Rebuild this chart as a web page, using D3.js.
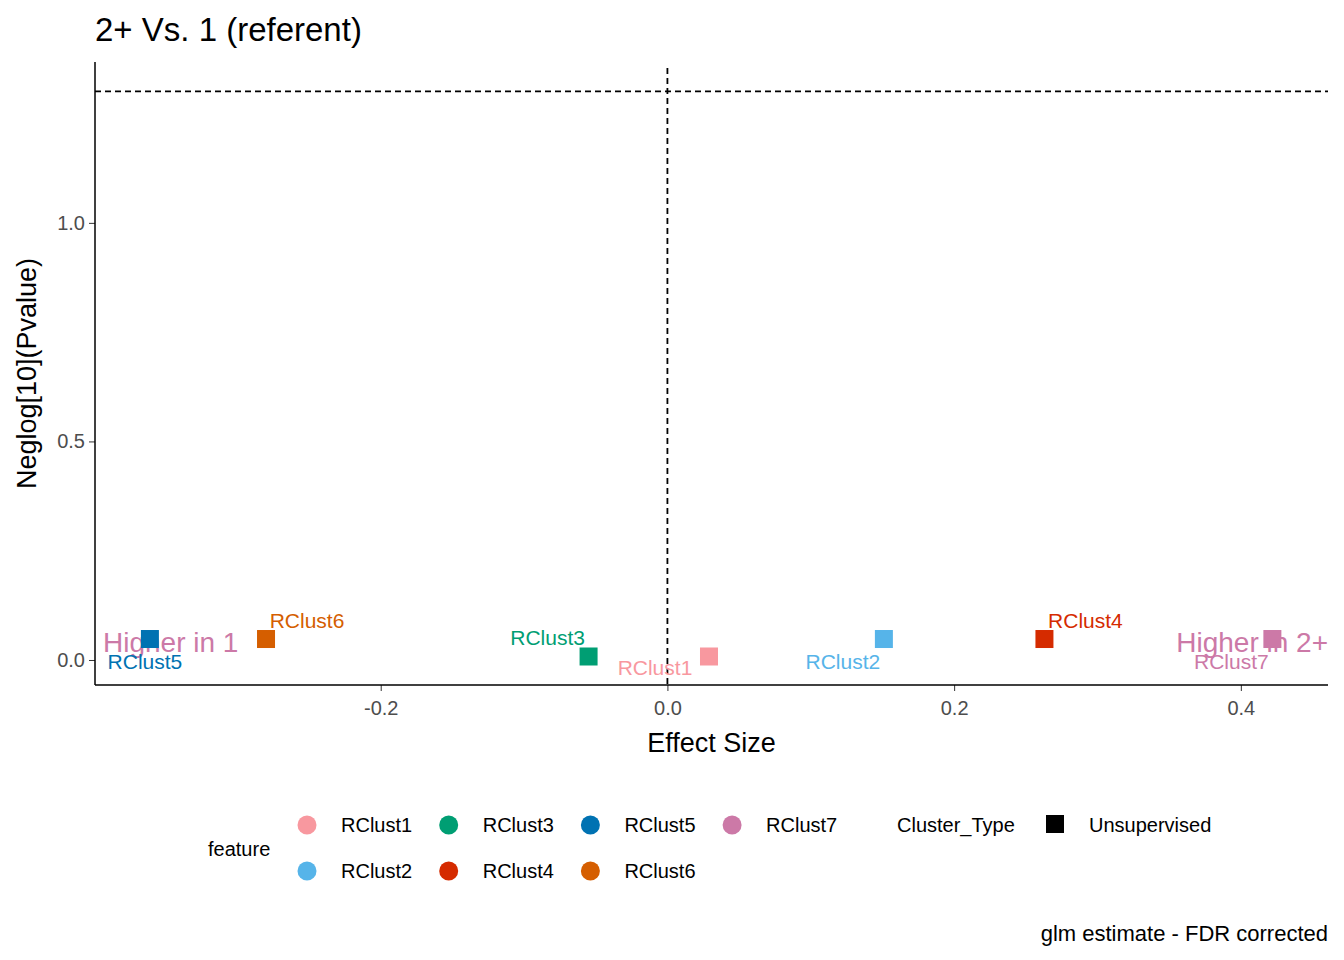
<!DOCTYPE html><html><head><meta charset="utf-8"><script src="https://cdn.jsdelivr.net/npm/d3@7"></script>
<style>body{margin:0;background:#fff}text{font-family:Arial,"Liberation Sans",sans-serif}</style></head><body>
<svg id="c" width="1344" height="960"></svg>
<script>
const features=["RClust1","RClust2","RClust3","RClust4","RClust5","RClust6","RClust7"];
const effect=[0.029,0.151,-0.055,0.263,-0.361,-0.280,0.422];
const neglogp=[0.008,0.048,0.008,0.048,0.048,0.048,0.048];
const colors=["#F8989F","#56B4E9","#009E73","#D52B00","#0072B2","#D55E00","#CC79A7"];
const labelOffsets=[[-54,19],[-41,30],[-41,-11],[41,-11],[-5,30],[41,-11],[-41,30]];
const xTicks=[-0.2,0,0.2,0.4];
const yTicks=[0,0.5,1.0];
const svg=d3.select("#c");
const L=95,R=1328,T=62,B=685;
const x=d3.scaleLinear().domain([-0.3993,0.4608]).range([L,R]);
const y=d3.scaleLinear().domain([-0.0572,1.368]).range([B,T]);
svg.append("text").attr("x",95).attr("y",41).attr("font-size",33).text("2+ Vs. 1 (referent)");
const g=svg.append("g");
g.append("line").attr("x1",x(0)).attr("x2",x(0)).attr("y1",T+6).attr("y2",B).attr("stroke","#000").attr("stroke-width",1.8).attr("stroke-dasharray","6,4");
g.append("line").attr("x1",L).attr("x2",R).attr("y1",y(1.301)).attr("y2",y(1.301)).attr("stroke","#000").attr("stroke-width",1.8).attr("stroke-dasharray","6,4");
const xa=svg.append("g").attr("transform",`translate(0,${B})`).call(d3.axisBottom(x).tickValues(xTicks).tickFormat(d=>d3.format(".1f")(d).replace("−","-")).tickSize(6).tickSizeOuter(0));
const ya=svg.append("g").attr("transform",`translate(${L},0)`).call(d3.axisLeft(y).tickValues(yTicks).tickFormat(d3.format(".1f")).tickSize(6).tickSizeOuter(0));
[xa,ya].forEach(a=>{a.select(".domain").remove();a.selectAll("text").attr("font-size",20).attr("fill","#4d4d4d").style("font-family","Arial");a.selectAll("line").attr("stroke","#333");});
ya.selectAll("text").attr("x",-10);
svg.append("line").attr("x1",L).attr("x2",R).attr("y1",B).attr("y2",B).attr("stroke","#000").attr("stroke-width",1.5);
svg.append("line").attr("x1",L).attr("x2",L).attr("y1",T).attr("y2",B).attr("stroke","#000").attr("stroke-width",1.5);
xa.selectAll("text").attr("dy","1.05em");
svg.append("text").attr("x",(L+R)/2).attr("y",752).attr("text-anchor","middle").attr("font-size",27).text("Effect Size");
svg.append("text").attr("transform",`translate(36,${(T+B)/2}) rotate(-90)`).attr("text-anchor","middle").attr("font-size",27).text("Neglog[10](Pvalue)");
svg.append("text").attr("x",103).attr("y",652).attr("font-size",28).attr("fill","#CC79A7").text("Higher in 1");
svg.append("text").attr("x",R).attr("y",652).attr("text-anchor","end").attr("font-size",28).attr("fill","#CC79A7").text("Higher in 2+");
features.forEach((f,i)=>{
  svg.append("rect").attr("x",x(effect[i])-9).attr("y",y(neglogp[i])-9).attr("width",18).attr("height",18).attr("fill",colors[i]);
  svg.append("text").attr("x",x(effect[i])+labelOffsets[i][0]).attr("y",y(neglogp[i])+labelOffsets[i][1]).attr("text-anchor","middle").attr("font-size",21).attr("fill",colors[i]).text(f);
});
svg.append("text").attr("x",208).attr("y",856).attr("font-size",20).text("feature");
features.forEach((f,i)=>{
  const col=Math.floor(i/2),row=i%2;
  const cx=307+col*141.7,cy=825+row*46;
  svg.append("circle").attr("cx",cx).attr("cy",cy).attr("r",9.5).attr("fill",colors[i]);
  svg.append("text").attr("x",cx+34).attr("y",cy+7).attr("font-size",20).text(f);
});
svg.append("text").attr("x",897).attr("y",832).attr("font-size",20).text("Cluster_Type");
svg.append("rect").attr("x",1046).attr("y",815).attr("width",18).attr("height",18).attr("fill","#000");
svg.append("text").attr("x",1089).attr("y",832).attr("font-size",20).text("Unsupervised");
svg.append("text").attr("x",R).attr("y",941).attr("text-anchor","end").attr("font-size",22).text("glm estimate - FDR corrected");
</script></body></html>
